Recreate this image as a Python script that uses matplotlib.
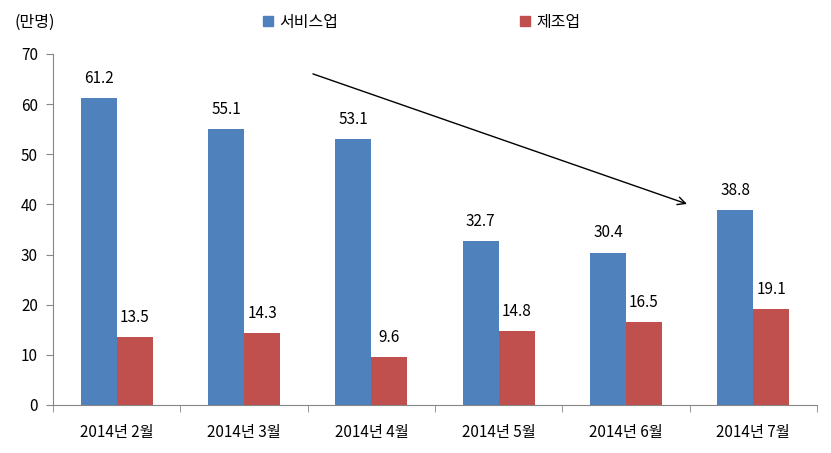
import numpy as np
from matplotlib import pyplot as plt
from matplotlib.lines import Line2D

plt.rcParams['font.family'] = ['Noto Sans CJK KR', 'DejaVu Sans']

months = ['2014년 2월', '2014년 3월', '2014년 4월', '2014년 5월', '2014년 6월', '2014년 7월']
service = [61.2, 55.1, 53.1, 32.7, 30.4, 38.8]
manufacturing = [13.5, 14.3, 9.6, 14.8, 16.5, 19.1]
series_names = ['서비스업', '제조업']

blue = '#4F81BD'
red = '#C0504D'

fig = plt.figure(figsize=(8.31, 4.53), dpi=100)
ax = fig.add_axes([0.064, 0.106, 0.919, 0.775])

x = np.arange(len(months))
w = 0.283
b1 = ax.bar(x - w / 2, service, w, color=blue)
b2 = ax.bar(x + w / 2, manufacturing, w, color=red)

for bars, vals in [(b1, service), (b2, manufacturing)]:
    for rect, v in zip(bars, vals):
        ax.text(rect.get_x() + rect.get_width() / 2, v + 2.2, f'{v:.1f}',
                ha='center', va='bottom', fontsize=11)

ax.set_xlim(-0.5, len(months) - 0.5)
ax.set_ylim(0, 70)
ax.set_yticks(range(0, 71, 10))
ax.set_xticks(x)
ax.set_xticklabels(months, fontsize=11)
ax.tick_params(axis='x', length=0, pad=14)
ax.set_xticks(np.arange(-0.5, len(months) + 0.5, 1), minor=True)
ax.tick_params(axis='x', which='minor', length=5, color='#868686', direction='out')
ax.tick_params(axis='y', length=5, color='#868686', labelsize=11, pad=6)

for s in ['top', 'right']:
    ax.spines[s].set_visible(False)
for s in ['left', 'bottom']:
    ax.spines[s].set_color('#868686')

# trend arrow
ax.annotate('', xy=(4.50, 39.9), xytext=(1.52, 66.2),
            arrowprops=dict(arrowstyle='->', color='black', lw=1, mutation_scale=14))

fig.text(0.018, 0.951, '(만명)', fontsize=11.5, va='center')
handles = [Line2D([], [], ls='none', marker='s', markersize=7, color=c) for c in (blue, red)]
ax.legend(handles, series_names, loc='center', bbox_to_anchor=(0.482, 1.09), ncol=2,
          frameon=False, fontsize=11.5, handlelength=0.8, handletextpad=0.3,
          columnspacing=11.3)

fig.savefig('out.png', dpi=100)
